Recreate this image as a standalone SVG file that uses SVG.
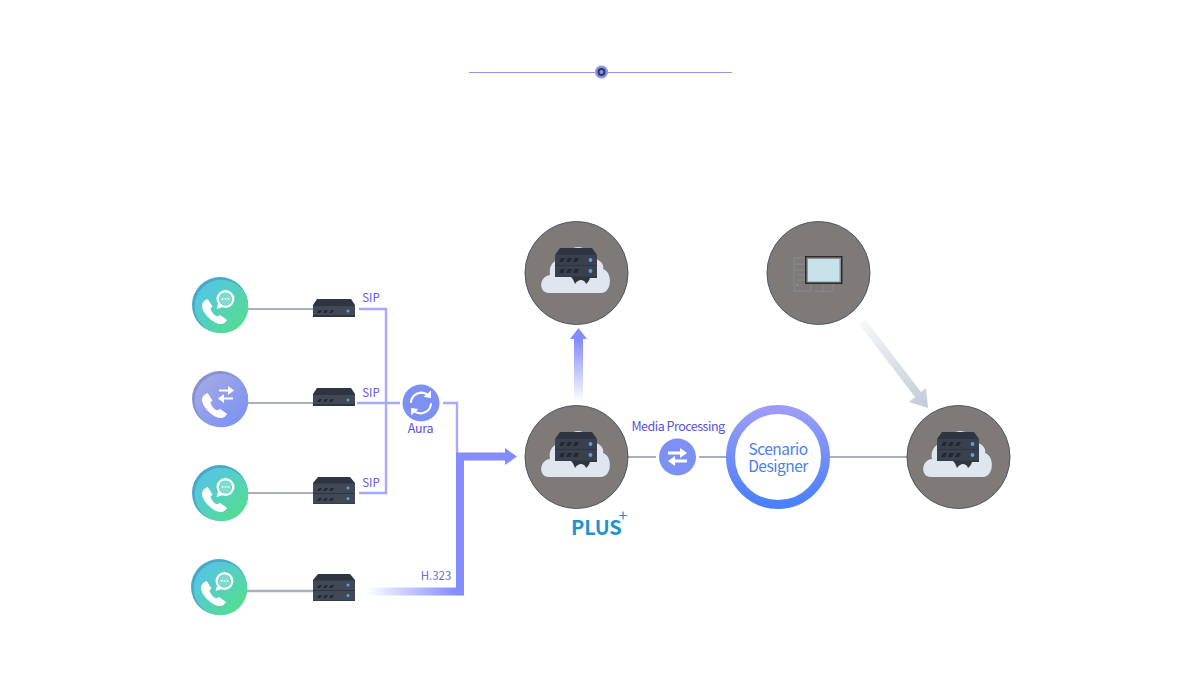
<svg xmlns="http://www.w3.org/2000/svg" width="1200" height="700" viewBox="0 0 1200 700">
<style>
text{font-family:"Noto Sans CJK KR","Noto Sans",sans-serif}
.lbl{font-size:11.5px;fill:#6a55e8;text-anchor:middle}
.gl{stroke:#a9afbd;stroke-width:2;fill:none}
.pl{stroke:#a5a9ff;stroke-width:2.400;fill:none}
.big{fill:#7d7a78;stroke:#4d5766;stroke-width:1}
.wl{stroke:#fff;fill:none;stroke-linecap:round;stroke-linejoin:round}
.led{fill:#5b9df0}
.vent{fill:#23272f}
</style>
<defs>
<linearGradient id="gGreen" x1="0.15" y1="0.15" x2="0.85" y2="0.85"><stop offset="0" stop-color="#55c6e4"/><stop offset="1" stop-color="#54dc92"/></linearGradient>
<linearGradient id="gBlue" x1="0.1" y1="0.1" x2="0.9" y2="0.9"><stop offset="0" stop-color="#a3a9e4"/><stop offset="1" stop-color="#7c92f5"/></linearGradient>
<linearGradient id="gH323" gradientUnits="userSpaceOnUse" x1="366" y1="0" x2="456" y2="0"><stop offset="0" stop-color="#848cff" stop-opacity="0"/><stop offset="1" stop-color="#848cff"/></linearGradient>
<linearGradient id="gUp" gradientUnits="userSpaceOnUse" x1="0" y1="402" x2="0" y2="340"><stop offset="0" stop-color="#848cff" stop-opacity="0"/><stop offset="1" stop-color="#848cff"/></linearGradient>
<linearGradient id="gDiag" gradientUnits="userSpaceOnUse" x1="862" y1="322" x2="925" y2="405"><stop offset="0" stop-color="#c3ccd8" stop-opacity="0.15"/><stop offset="1" stop-color="#c3ccd8"/></linearGradient>
<linearGradient id="gRing" x1="0" y1="0" x2="0" y2="1"><stop offset="0" stop-color="#9c9cf8"/><stop offset="1" stop-color="#4a80f8"/></linearGradient>
<g id="handset"><path d="M-10.500,-10 C-14,-6 -11,1 -5,6.500 C1,12 7,13.500 10.500,10.500 L12,8.500 L5.500,4 L2.500,5.500 C-0.500,4 -3.500,1 -4.500,-3 L-2.500,-5 L-7,-12 Z" fill="#fff" stroke="#fff" stroke-width="1" stroke-linejoin="round"/></g>
<g id="phoneChat">
<circle cx="0" cy="0" r="28" fill="#4aa9c6"/>
<circle cx="1.500" cy="1.500" r="26.800" fill="url(#gGreen)"/>
<use href="#handset" x="-5.500" y="6.500"/>
<circle cx="5.500" cy="-6" r="7.800" fill="none" stroke="#fff" stroke-width="2.400"/>
<path d="M-2,-1 L-3.500,4 L3,2 Z" fill="#fff"/>
<circle cx="5.500" cy="-6" r="6" fill="#fff" opacity="0.25"/>
<circle cx="2.500" cy="-6" r="1" fill="#fff"/><circle cx="5.500" cy="-6" r="1" fill="#fff"/><circle cx="8.500" cy="-6" r="1" fill="#fff"/>
</g>
<g id="phoneSwap">
<circle cx="0" cy="0" r="28" fill="#8892d2"/>
<circle cx="1.500" cy="1.500" r="26.800" fill="url(#gBlue)"/>
<use href="#handset" x="-5.500" y="6.500"/>
<path fill="#fff" d="M-1,-9.500 H8 V-13 L14,-8.500 L8,-4 V-7.500 H-1 Z M13,-1.500 H4 V-5 L-2,-0.500 L4,4 V0.500 H13 Z"/>
</g>
<g id="srv1">
<path d="M4,0 H38 L42,6 V18 H0 V6 Z" fill="#2f3540"/>
<rect x="0" y="7" width="42" height="9" fill="#414856"/>
<path d="M4,14 l2,-3 h3 l-2,3 Z M10,14 l2,-3 h3 l-2,3 Z M16,14 l2,-3 h3 l-2,3 Z" class="vent"/>
<circle cx="35" cy="12" r="1.500" class="led"/>
</g>
<g id="srv2">
<path d="M5,0 H37 L42,6 V27 H0 V6 Z" fill="#2f3540"/>
<rect x="0" y="6.500" width="42" height="9.500" fill="#414856"/>
<rect x="0" y="17" width="42" height="9.500" fill="#414856"/>
<path d="M4,14 l2,-3 h3 l-2,3 Z M10,14 l2,-3 h3 l-2,3 Z M16,14 l2,-3 h3 l-2,3 Z M4,24 l2,-3 h3 l-2,3 Z M10,24 l2,-3 h3 l-2,3 Z M16,24 l2,-3 h3 l-2,3 Z" class="vent"/>
<circle cx="35" cy="11" r="1.500" class="led"/><circle cx="35" cy="21.500" r="1.500" class="led"/>
</g>
<g id="cloudSrv">
<path d="M-27,21 C-38,21 -37,4 -26,3 C-28,-10 -18,-14 -10,-13 C-8,-29 12,-29 15,-13 C22,-15 29,-8 27,-3 C37,0 36,21 25,21 Z" fill="#dfe6f0"/>
<path d="M-16,-24 H16 L21,-17 V6 H14 C13,9 12,10 10,12 C9,9 7,8 5,8 C3,8 1,9 -1,12 C-2,9 -3,7 -5,5 H-21 V-17 Z" fill="#2f3540"/>
<rect x="-21" y="-17" width="42" height="10" fill="#3a404d"/>
<rect x="-21" y="-6" width="42" height="10.500" fill="#3a404d"/>
<path d="M-17,-10 l2,-4 h4 l-2,4 Z M-10,-10 l2,-4 h4 l-2,4 Z M-3,-10 l2,-4 h4 l-2,4 Z M-17,1 l2,-4 h4 l-2,4 Z M-10,1 l2,-4 h4 l-2,4 Z M-3,1 l2,-4 h4 l-2,4 Z" class="vent"/>
<circle cx="14.500" cy="-12" r="1.900" class="led"/><circle cx="14.500" cy="-1" r="1.900" class="led"/>
</g>
</defs>

<g id="topMark">
<path d="M469,72.500 H732" stroke="#8f96ee" stroke-width="1" fill="none"/>
<circle cx="601.500" cy="72" r="6.500" fill="#8a92f0"/>
<circle cx="601.500" cy="72" r="3" fill="none" stroke="#2f3a58" stroke-width="2"/>
</g>

<g id="connectors">
<path class="gl" d="M247,309 H313 M247,403 H313 M247,493 H313 M628,457 H656 M699,457 H727 M830,457 H907"/>
<path class="gl" d="M247,591 H313" style="stroke-width:2.500"/>
<path class="pl" d="M359,309 H386 V493 H359 M357,403 H400 M443,403 H457 V453"/>
<path d="M456,587.500 V452.500 H505 V448 L517,456.500 L505,465 V460.500 H464 V595.500 H456 Z" fill="#848cff"/>
<rect x="366" y="587.500" width="90" height="8" fill="url(#gH323)"/>
<path d="M574,402 V339 H570 L578.500,328 L587,339 H583 V402 Z" fill="url(#gUp)"/>
<path d="M859,324 L865,319 L921,392 L926,388 L928,408 L909,402 L915,397 Z" fill="url(#gDiag)"/>
</g>

<g id="phone1"><use href="#phoneChat" x="220" y="305"/></g>
<g id="phone2"><use href="#phoneSwap" x="220" y="399"/></g>
<g id="phone3"><use href="#phoneChat" x="220" y="493"/></g>
<g id="phone4"><use href="#phoneChat" x="219" y="587"/></g>

<g id="server1"><use href="#srv1" x="313" y="299"/></g>
<g id="server2"><use href="#srv1" x="313" y="388"/></g>
<g id="server3"><use href="#srv2" x="313" y="477"/></g>
<g id="server4"><use href="#srv2" x="313" y="574"/></g>

<g id="sipLabels">
<text class="lbl" x="371" y="302">SIP</text>
<text class="lbl" x="371" y="397">SIP</text>
<text class="lbl" x="371" y="487">SIP</text>
<text class="lbl" x="436" y="580" style="fill:#6f6ad8">H.323</text>
</g>

<g id="aura">
<circle cx="421" cy="403" r="18.500" fill="#7d90f4"/>
<path class="wl" stroke-width="2.200" d="M411,402 A10.500,10.500 0 0 1 428,395 M431,404 A10.500,10.500 0 0 1 414,411"/>
<path d="M431,390.500 L431,398 L423.500,397 Z M411,415.500 L411,408 L418.500,409 Z" fill="#fff"/>
<text x="420.500" y="433" font-size="12.500" fill="#5b50df" text-anchor="middle" letter-spacing="-0.300">Aura</text>
</g>

<g id="cloudTop"><circle class="big" cx="576.500" cy="273" r="51.500"/><use href="#cloudSrv" x="576" y="272"/></g>
<g id="cloudPlus"><circle class="big" cx="576.500" cy="457" r="51.500"/><use href="#cloudSrv" x="576" y="456"/>
<text x="571" y="535" font-size="20" font-weight="700" fill="#1f93cf" letter-spacing="-0.200">PLUS<tspan dx="-3" dy="-14" font-size="16" font-weight="400">+</tspan></text></g>
<g id="cloudRight"><circle class="big" cx="958.500" cy="457" r="51.500"/><use href="#cloudSrv" x="958" y="456"/></g>

<g id="computer">
<circle class="big" cx="818.500" cy="273" r="51.500"/>
<g fill="none" stroke="#8b8a8b" stroke-width="1">
<path d="M806,258 H794 V291 H811 V284 M794,264 H806 M794,270 H806 M797,275 H805 V280 H797 M833,284 V291 M823,291 V284 M815,291.500 H833"/>
<circle cx="797.500" cy="285" r="1" fill="#8b8a8b"/>
</g>
<rect x="805" y="256" width="37.500" height="28" fill="#2a2a2e"/>
<rect x="806.500" y="257.500" width="34.500" height="25" fill="#8f9296"/>
<rect x="808" y="259" width="31.500" height="22.500" fill="#c8e2e9"/>
</g>

<g id="media">
<text x="678" y="431" font-size="12.500" fill="#5b50df" text-anchor="middle" letter-spacing="-0.500">Media Processing</text>
<circle cx="677.500" cy="457" r="18.500" fill="#7d90f4"/>
<path fill="#fff" d="M668,451.500 H680 V448 L687,453 L680,458 V454.500 H668 Z M687,459.500 H675 V456 L668,461 L675,466 V462.500 H687 Z"/>
</g>

<g id="scenario">
<circle cx="778" cy="457" r="47.500" fill="#fff" stroke="url(#gRing)" stroke-width="9"/>
<text font-size="15.500" fill="#4a80f0" text-anchor="middle" letter-spacing="-0.500"><tspan x="778" y="455">Scenario</tspan><tspan x="778" y="472">Designer</tspan></text>
</g>
</svg>
